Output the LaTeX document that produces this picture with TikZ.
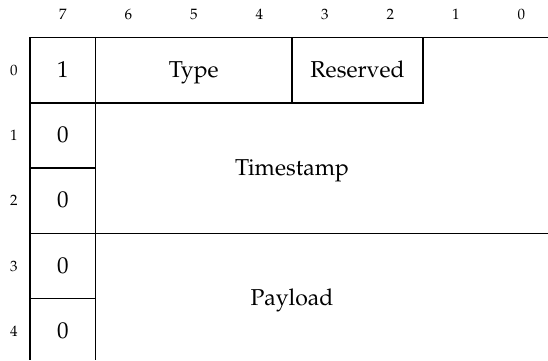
\documentclass[tikz,border=0pt]{standalone}
\usepackage[T1]{fontenc}
\usepackage{mathpazo}
\begin{document}
\begin{tikzpicture}[x=32.75pt,y=-32.65pt,line width=0.75pt,
    campo/.style={font=\fontsize{11.5}{13}\selectfont,anchor=base,yshift=-3.6pt},
    indice/.style={font=\fontsize{7.5}{9}\selectfont}]
    \useasboundingbox (-0.458,-0.574) rectangle (7.908,4.939);

    % Bordes
    \draw (7.908,0) -- (0,0) -- (0,4.939);
    \draw (1,0) -- (1,4.939);
    \draw (0,1) -- (6,1) -- (6,0);
    \draw (4,0) -- (4,1);
    \draw (0,2) -- (1,2);
    \draw (0,3) -- (7.908,3);
    \draw (0,4) -- (1,4);

    % Numeros de bit
    \node[indice] (b7) at (0.5,-0.36) {7};
    \node[indice] (b6) at (1.5,-0.36) {6};
    \node[indice] (b5) at (2.5,-0.36) {5};
    \node[indice] (b4) at (3.5,-0.36) {4};
    \node[indice] (b3) at (4.5,-0.36) {3};
    \node[indice] (b2) at (5.5,-0.36) {2};
    \node[indice] (b1) at (6.5,-0.36) {1};
    \node[indice] (b0) at (7.5,-0.36) {0};

    % Numeros de byte
    \node[indice] (r0) at (-0.245,0.5) {0};
    \node[indice] (r1) at (-0.245,1.5) {1};
    \node[indice] (r2) at (-0.245,2.5) {2};
    \node[indice] (r3) at (-0.245,3.5) {3};
    \node[indice] (r4) at (-0.245,4.5) {4};

    % Campos
    \node[campo] (f0) at (0.5,0.5) {1};
    \node[campo] (f1) at (0.5,1.5) {0};
    \node[campo] (f2) at (0.5,2.5) {0};
    \node[campo] (f3) at (0.5,3.5) {0};
    \node[campo] (f4) at (0.5,4.5) {0};
    \node[campo] (type) at (2.5,0.5) {Type};
    \node[campo] (res) at (5,0.5) {Reserved};
    \node[campo] (ts) at (4,2) {Timestamp};
    \node[campo] (pl) at (4,4) {Payload};
\end{tikzpicture}
\end{document}
